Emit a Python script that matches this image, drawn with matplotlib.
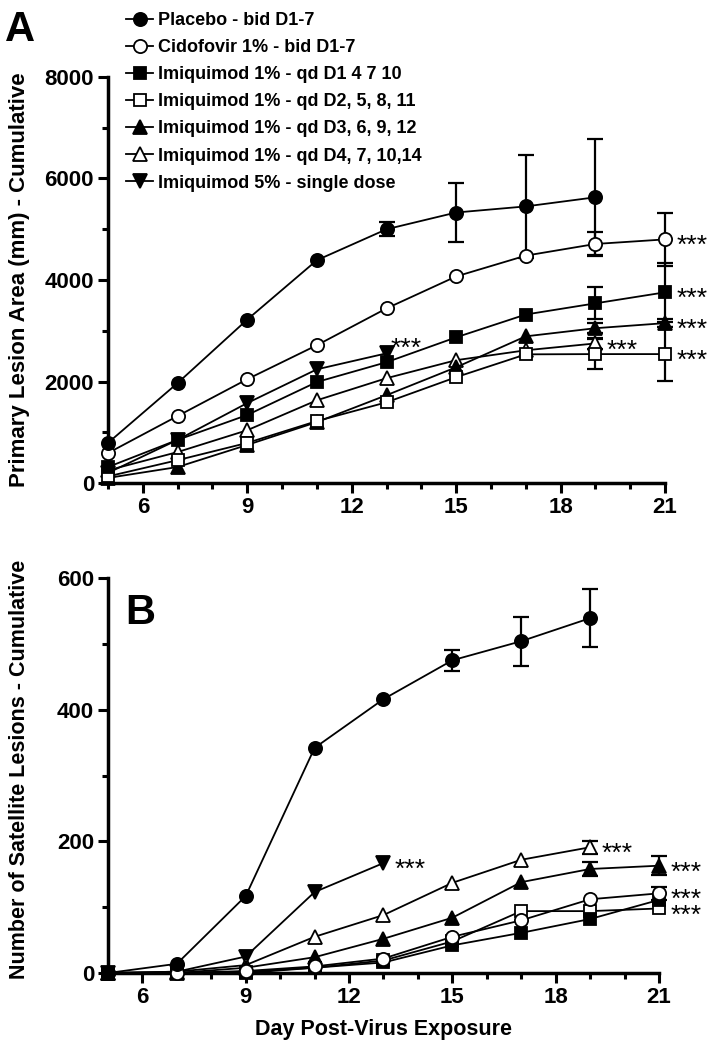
import numpy as np
import matplotlib.pyplot as plt
from matplotlib.ticker import MultipleLocator

plt.rcParams['font.family'] = ['Liberation Sans', 'DejaVu Sans']

days = [5, 7, 9, 11, 13, 15, 17, 19, 21]

labels = ['Placebo - bid D1-7',
          'Cidofovir 1% - bid D1-7',
          'Imiquimod 1% - qd D1 4 7 10',
          'Imiquimod 1% - qd D2, 5, 8, 11',
          'Imiquimod 1% - qd D3, 6, 9, 12',
          'Imiquimod 1% - qd D4, 7, 10,14',
          'Imiquimod 5% - single dose']

# panel A - primary lesion area
placebo_a = [790, 1970, 3220, 4390, 5000, 5330, 5450, 5630]
placebo_a_err = [0, 0, 0, 0, 140, 590, 1020, 1140]
cido_a = [590, 1320, 2045, 2715, 3440, 4070, 4480, 4710, 4800]
cido_a_err = [0, 0, 0, 0, 0, 0, 0, 245, 530]
sq_a = [315, 850, 1340, 1990, 2380, 2870, 3320, 3540, 3757]
sq_a_err = [0, 0, 0, 0, 0, 0, 0, 315, 580]
osq_a = [130, 450, 790, 1220, 1590, 2085, 2535, 2540, 2540]
osq_a_err = [0, 0, 0, 0, 0, 0, 0, 300, 530]
tri_a = [100, 315, 750, 1200, 1730, 2280, 2890, 3050, 3150]
tri_a_err = [0, 0, 0, 0, 0, 0, 0, 100, 80]
otri_a = [250, 610, 1040, 1630, 2065, 2420, 2615, 2750]
otri_a_err = [0, 0, 0, 0, 0, 0, 0, 100]
tdown_a = [200, 850, 1575, 2240, 2555]
tdown_a_err = [0, 0, 0, 0, 0]

# panel B - satellite lesions
placebo_b = [0, 14, 117, 342, 416, 475, 504, 539]
placebo_b_err = [0, 0, 0, 0, 0, 16, 37, 44]
cido_b = [0, 0, 3, 10, 22, 55, 80, 112, 121]
cido_b_err = [0, 0, 0, 0, 0, 0, 0, 0, 10]
sq_b = [0, 0, 2, 8, 16, 42, 61, 82, 111]
sq_b_err = [0, 0, 0, 0, 0, 0, 0, 0, 0]
osq_b = [0, 0, 0, 8, 19, 48, 94, 94, 98]
osq_b_err = [0, 0, 0, 0, 0, 0, 0, 0, 0]
tri_b = [0, 0, 8, 24, 52, 84, 138, 158, 163]
tri_b_err = [0, 0, 0, 0, 0, 0, 0, 10, 14]
otri_b = [0, 2, 12, 55, 88, 137, 172, 191]
otri_b_err = [0, 0, 0, 0, 0, 0, 0, 10]
tdown_b = [0, 2, 25, 123, 167]
tdown_b_err = [0, 0, 0, 0, 0]

styles = [('o', 'black', 9.5), ('o', 'white', 9.5), ('s', 'black', 8),
          ('s', 'white', 8), ('^', 'black', 9.5), ('^', 'white', 9.5),
          ('v', 'black', 9.5)]

fig = plt.figure(figsize=(7.17, 10.5), dpi=100)
axA = fig.add_axes([108/717, 1-483/1050, 557/717, 406/1050])
axB = fig.add_axes([108/717, 1-973/1050, 551/717, 395/1050])


def draw(ax, series, errs):
    hs = []
    for i in range(len(series)):
        y = series[i]
        x = days[:len(y)]
        m, fc, ms = styles[i]
        e = np.array(errs[i], dtype=float)
        mask = e > 0
        if mask.any():
            ax.errorbar(np.array(x)[mask], np.array(y)[mask], yerr=e[mask], fmt='none',
                        ecolor='black', elinewidth=1.6, capsize=5.5, capthick=1.6,
                        zorder=2, clip_on=False)
        h, = ax.plot(x, y, marker=m, color='black', mfc=fc, mec='black', ms=ms,
                     mew=1.3, lw=1.3, zorder=3 + (7 - i) * 0.1, clip_on=False)
        hs.append(h)
    return hs


def style(ax, ymax, ystep):
    ax.set_xlim(5, 21)
    ax.set_ylim(0, ymax)
    ax.spines['top'].set_visible(False)
    ax.spines['right'].set_visible(False)
    ax.spines['left'].set_linewidth(2.5)
    ax.spines['bottom'].set_linewidth(2.5)
    ax.set_xticks([6, 9, 12, 15, 18, 21])
    ax.xaxis.set_minor_locator(MultipleLocator(1))
    ax.yaxis.set_major_locator(MultipleLocator(ystep))
    ax.yaxis.set_minor_locator(MultipleLocator(ystep / 2))
    ax.tick_params(which='major', direction='out', length=7, width=2.2,
                   labelsize=16, pad=3)
    ax.tick_params(which='minor', direction='out', length=4, width=2.2)
    for t in ax.get_xticklabels() + ax.get_yticklabels():
        t.set_fontweight('bold')


def stars(ax, y, day, dx=8, dy=-5):
    ax.annotate('***', xy=(day, y), xytext=(dx, dy), textcoords='offset points',
                ha='left', va='center', fontsize=19)


hsA = draw(axA, [placebo_a, cido_a, sq_a, osq_a, tri_a, otri_a, tdown_a],
           [placebo_a_err, cido_a_err, sq_a_err, osq_a_err, tri_a_err, otri_a_err, tdown_a_err])
style(axA, 8000, 2000)
for s in [cido_a, sq_a, tri_a, osq_a]:
    stars(axA, s[-1], 21)
stars(axA, otri_a[-1], 19)
stars(axA, tdown_a[-1], 13, dx=3, dy=3)
axA.set_ylabel('Primary Lesion Area (mm) - Cumulative', fontsize=16, fontweight='bold')

draw(axB, [placebo_b, cido_b, sq_b, osq_b, tri_b, otri_b, tdown_b],
     [placebo_b_err, cido_b_err, sq_b_err, osq_b_err, tri_b_err, otri_b_err, tdown_b_err])
style(axB, 600, 200)
for s in [tri_b, cido_b, osq_b]:
    stars(axB, s[-1], 21)
stars(axB, otri_b[-1], 19)
stars(axB, tdown_b[-1], 13)
axB.set_ylabel('Number of Satellite Lesions - Cumulative', fontsize=15.5, fontweight='bold')
axB.set_xlabel('Day Post-Virus Exposure', fontsize=15.5, fontweight='bold', labelpad=8)

axA.yaxis.set_label_coords(-0.14, 0.5)
axB.yaxis.set_label_coords(-0.142, 0.515)

fig.legend(hsA, labels, loc='upper left', bbox_to_anchor=(126/717, 1-12/1050),
           frameon=False, prop={'weight': 'bold', 'size': 13}, handlelength=1.5,
           handletextpad=0.25, labelspacing=0.56, borderpad=0, borderaxespad=0)

fig.text(5/717, 1-10/1050, 'A', fontsize=30, fontweight='bold', va='top')
fig.text(125/717, 1-593/1050, 'B', fontsize=30, fontweight='bold', va='top')

fig.savefig('out.png', dpi=100)
